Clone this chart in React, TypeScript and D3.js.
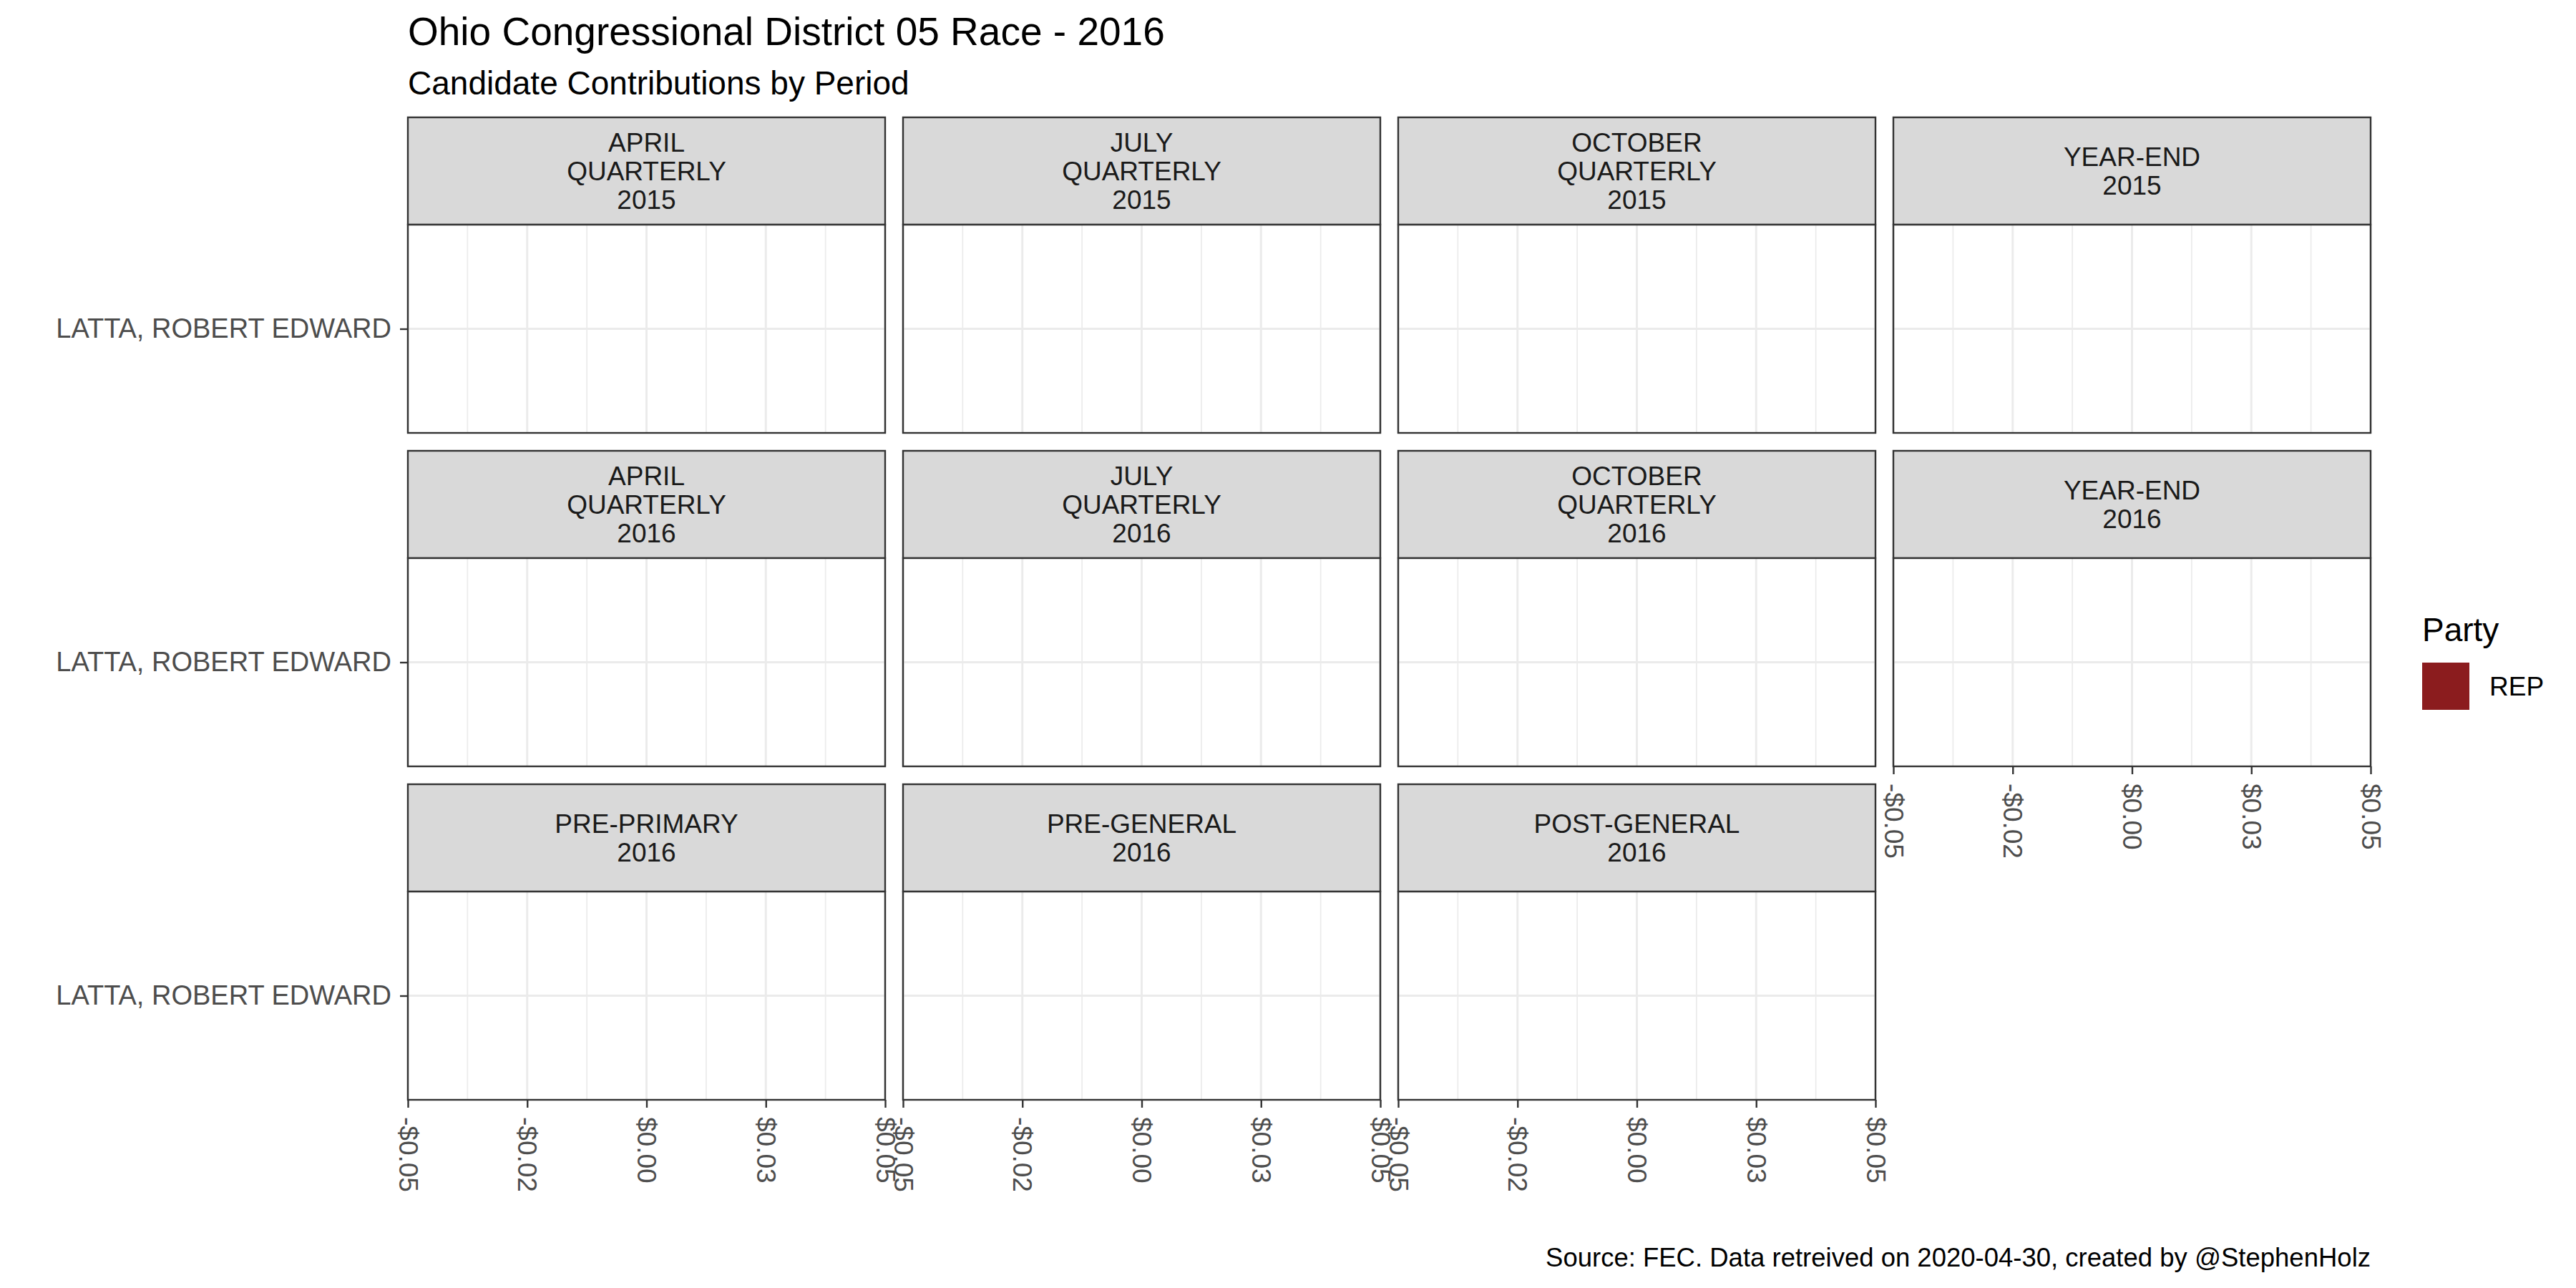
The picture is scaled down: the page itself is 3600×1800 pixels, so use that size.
import * as d3 from "d3";
import { useEffect, useRef } from "react";

const periods = [
  ["APRIL", "QUARTERLY", "2015"],
  ["JULY", "QUARTERLY", "2015"],
  ["OCTOBER", "QUARTERLY", "2015"],
  ["YEAR-END", "2015"],
  ["APRIL", "QUARTERLY", "2016"],
  ["JULY", "QUARTERLY", "2016"],
  ["OCTOBER", "QUARTERLY", "2016"],
  ["YEAR-END", "2016"],
  ["PRE-PRIMARY", "2016"],
  ["PRE-GENERAL", "2016"],
  ["POST-GENERAL", "2016"],
];
const candidates = ["LATTA, ROBERT EDWARD"];
// no contributions recorded in any period
const contributions = [0, 0, 0, 0, 0, 0, 0, 0, 0, 0, 0];
const parties = ["REP"];
const partyColors = ["#8B1C1E"];
const xTicks = [-0.05, -0.025, 0, 0.025, 0.05];
const xMinor = [-0.0375, -0.0125, 0.0125, 0.0375];
const xTickLabels = ["-$0.05", "-$0.02", "$0.00", "$0.03", "$0.05"];

const title = "Ohio Congressional District 05 Race - 2016";
const subtitle = "Candidate Contributions by Period";
const caption = "Source: FEC. Data retreived on 2020-04-30, created by @StephenHolz";

const FONT = "'Liberation Sans', Arial, Helvetica, sans-serif";

const App = () => {
  const svgRef = useRef(null);
  const width = 3600;
  const height = 1800;

  useEffect(() => {
    const svg = d3.select(svgRef.current);
    svg.selectAll("*").remove();
    svg.attr("font-family", FONT);

    const nCol = 4;
    const nRow = Math.ceil(periods.length / nCol);
    const stripH = 150;
    const gap = 25;

    const colScale = d3
      .scaleBand<number>()
      .domain(d3.range(nCol))
      .range([570, 3313])
      .paddingInner(gap / (667 + gap));
    const rowScale = d3
      .scaleBand<number>()
      .domain(d3.range(nRow))
      .range([164, 1537])
      .paddingInner(gap / (441 + gap));

    svg.append("rect").attr("width", width).attr("height", height).attr("fill", "white");

    svg
      .append("text")
      .attr("x", 570)
      .attr("y", 63)
      .attr("font-size", 55)
      .attr("fill", "black")
      .text(title);
    svg
      .append("text")
      .attr("x", 570)
      .attr("y", 132)
      .attr("font-size", 46)
      .attr("fill", "black")
      .text(subtitle);

    periods.forEach((lines, i) => {
      const col = i % nCol;
      const row = Math.floor(i / nCol);
      const x0 = colScale(col)!;
      const pw = colScale.bandwidth();
      const top = rowScale(row)!;
      const panelTop = top + stripH;
      const panelBottom = top + rowScale.bandwidth();

      const xScale = d3.scaleLinear().domain([-0.05, 0.05]).range([x0, x0 + pw]);
      const yScale = d3
        .scalePoint<string>()
        .domain(candidates)
        .range([panelTop, panelBottom])
        .padding(0.5);

      const g = svg.append("g");

      // strip
      g.append("rect")
        .attr("x", x0)
        .attr("y", top)
        .attr("width", pw)
        .attr("height", stripH)
        .attr("fill", "#D9D9D9")
        .attr("stroke", "#333333")
        .attr("stroke-width", 2.4);
      const lh = 40;
      const cy = top + stripH / 2;
      lines.forEach((t, j) => {
        g.append("text")
          .attr("x", x0 + pw / 2)
          .attr("y", cy + (j - (lines.length - 1) / 2) * lh + 13)
          .attr("text-anchor", "middle")
          .attr("font-size", 37)
          .attr("fill", "#1A1A1A")
          .text(t);
      });

      // panel background + grid
      g.append("rect")
        .attr("x", x0)
        .attr("y", panelTop)
        .attr("width", pw)
        .attr("height", panelBottom - panelTop)
        .attr("fill", "white");
      g.selectAll(".minor")
        .data(xMinor)
        .join("line")
        .attr("x1", (d) => xScale(d))
        .attr("x2", (d) => xScale(d))
        .attr("y1", panelTop)
        .attr("y2", panelBottom)
        .attr("stroke", "#EBEBEB")
        .attr("stroke-width", 1.7);
      g.selectAll(".major")
        .data(xTicks)
        .join("line")
        .attr("x1", (d) => xScale(d))
        .attr("x2", (d) => xScale(d))
        .attr("y1", panelTop)
        .attr("y2", panelBottom)
        .attr("stroke", "#EBEBEB")
        .attr("stroke-width", 3);
      g.selectAll(".hgrid")
        .data(candidates)
        .join("line")
        .attr("x1", x0)
        .attr("x2", x0 + pw)
        .attr("y1", (d) => yScale(d)!)
        .attr("y2", (d) => yScale(d)!)
        .attr("stroke", "#EBEBEB")
        .attr("stroke-width", 3);

      // bars (zero-width when nothing was contributed)
      const bandH = (panelBottom - panelTop) * 0.9;
      g.selectAll(".bar")
        .data(candidates)
        .join("rect")
        .attr("x", Math.min(xScale(0), xScale(contributions[i])))
        .attr("y", (d) => yScale(d)! - bandH / 2)
        .attr("width", Math.abs(xScale(contributions[i]) - xScale(0)))
        .attr("height", bandH)
        .attr("fill", partyColors[0]);

      g.append("rect")
        .attr("x", x0)
        .attr("y", panelTop)
        .attr("width", pw)
        .attr("height", panelBottom - panelTop)
        .attr("fill", "none")
        .attr("stroke", "#333333")
        .attr("stroke-width", 2.4);

      // y axis on first column
      if (col === 0) {
        const ya = g
          .append("g")
          .attr("transform", `translate(${x0},0)`)
          .call(d3.axisLeft(yScale).tickSize(11).tickPadding(12));
        ya.select(".domain").remove();
        ya.selectAll("line").attr("stroke", "#333333").attr("stroke-width", 2.4);
        ya.selectAll("text")
          .attr("font-size", 38)
          .attr("font-family", FONT)
          .attr("fill", "#4D4D4D");
      }

      // x axis on the lowest panel of each column
      const below = i + nCol;
      if (below >= periods.length) {
        const xa = g
          .append("g")
          .attr("transform", `translate(0,${panelBottom})`)
          .call(
            d3
              .axisBottom(xScale)
              .tickValues(xTicks)
              .tickSize(11)
              .tickFormat((_d, k) => xTickLabels[k])
          );
        xa.select(".domain").remove();
        xa.selectAll("line").attr("stroke", "#333333").attr("stroke-width", 2.4);
        xa.selectAll("text")
          .attr("font-size", 37)
          .attr("font-family", FONT)
          .attr("fill", "#4D4D4D")
          .attr("transform", "rotate(90)")
          .attr("text-anchor", "start")
          .attr("x", 24)
          .attr("y", 0)
          .attr("dy", "0.35em");
      }
    });

    // legend
    const lg = svg.append("g");
    lg.append("text")
      .attr("x", 3385)
      .attr("y", 896)
      .attr("font-size", 46)
      .attr("fill", "black")
      .text("Party");
    parties.forEach((p, k) => {
      lg.append("rect")
        .attr("x", 3385)
        .attr("y", 926 + k * 66)
        .attr("width", 66)
        .attr("height", 66)
        .attr("fill", partyColors[k]);
      lg.append("text")
        .attr("x", 3479)
        .attr("y", 926 + k * 66 + 46)
        .attr("font-size", 37)
        .attr("fill", "black")
        .text(p);
    });

    svg
      .append("text")
      .attr("x", 3313)
      .attr("y", 1770)
      .attr("text-anchor", "end")
      .attr("font-size", 36.5)
      .attr("fill", "black")
      .text(caption);
  }, []);

  return (
    <svg
      ref={svgRef}
      width={width}
      height={height}
      style={{ position: "absolute", left: 0, top: 0 }}
    />
  );
};

export default App;
